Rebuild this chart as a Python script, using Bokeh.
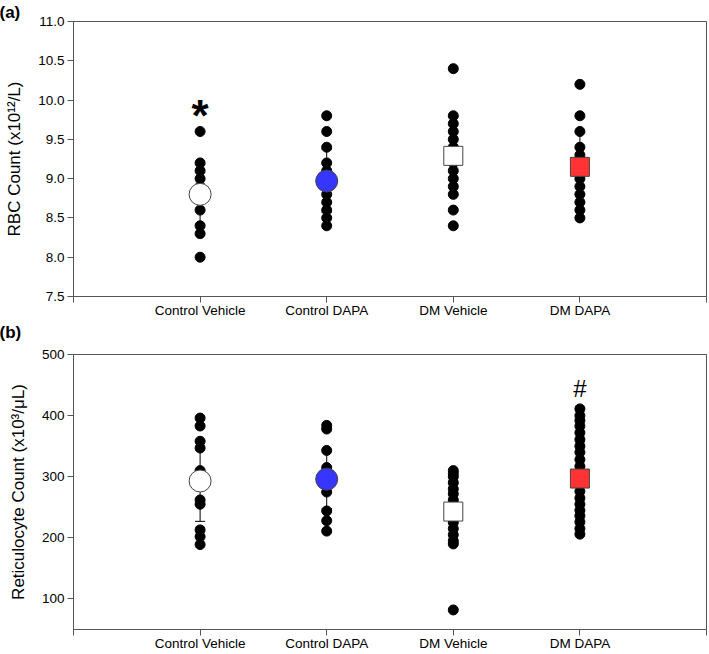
from bokeh.plotting import figure
from bokeh.layouts import column
from bokeh.models import FixedTicker, Label, ColumnDataSource, Range1d, Title
from bokeh.embed import file_html
from bokeh.resources import INLINE

# ---------------- data ----------------
categories = ["Control Vehicle", "Control DAPA", "DM Vehicle", "DM DAPA"]
cat_pos = [1, 2, 3, 4]
x_ticks = [0, 1, 2, 3, 4, 5]

# (a) RBC count (x10^12/L)
rbc_control_vehicle = [9.6, 9.2, 9.1, 9.0, 8.9, 8.8, 8.6, 8.4, 8.3, 8.0]
rbc_control_dapa = [9.8, 9.6, 9.4, 9.2, 9.1, 9.0, 8.9, 8.8, 8.7, 8.6, 8.5, 8.4]
rbc_dm_vehicle = [10.4, 9.8, 9.7, 9.6, 9.5, 9.4, 9.3, 9.2, 9.1, 9.0, 8.9, 8.8, 8.6, 8.4]
rbc_dm_dapa = [10.2, 9.8, 9.6, 9.4, 9.3, 9.2, 9.1, 9.0, 8.9, 8.8, 8.7, 8.6, 8.5]
rbc_means = [8.80, 8.97, 9.29, 9.15]
rbc_sd = [0.38, 0.40, 0.50, 0.45]
rbc_ticks = [7.5, 8.0, 8.5, 9.0, 9.5, 10.0, 10.5, 11.0]
rbc_tick_labels = ["7.5", "8.0", "8.5", "9.0", "9.5", "10.0", "10.5", "11.0"]

# (b) Reticulocyte count (x10^3/uL)
ret_control_vehicle = [396, 383, 358, 347, 310, 262, 255, 213, 202, 189]
ret_control_dapa = [384, 378, 343, 315, 305, 290, 275, 244, 228, 211]
ret_dm_vehicle = [310, 305, 300, 290, 280, 272, 262, 250, 235, 225, 215, 205, 195, 190, 82]
ret_dm_dapa = [411, 400, 392, 383, 372, 361, 350, 340, 328, 317, 305, 290,
               276, 265, 255, 245, 236, 226, 215, 206]
ret_means = [293, 296, 243, 297]
ret_sd = [66, 48, 50, 60]
ret_ticks = [100, 200, 300, 400, 500]
ret_tick_labels = ["100", "200", "300", "400", "500"]

mean_markers = ["circle", "circle", "square", "square"]
mean_colors = ["#ffffff", "#3636ff", "#ffffff", "#ff3333"]
mean_sizes = [22, 22, 19, 19]

FONT = "Liberation Sans"
AXC = "#555555"


def make_panel(groups, means, sds, yr, yticks, ytick_labels, ylabel,
               frame_h, b_top, b_bottom, mark, mark_x, mark_y, mark_size, mark_style, std):
    p = figure(frame_width=633, frame_height=frame_h, output_backend="svg",
               toolbar_location=None, x_range=Range1d(0, 5), y_range=Range1d(*yr),
               min_border_left=73, min_border_right=2, min_border_top=b_top,
               min_border_bottom=b_bottom, tools="")
    p.xgrid.visible = False
    p.ygrid.visible = False
    p.outline_line_color = AXC
    p.outline_line_width = 1
    p.background_fill_color = "white"
    p.border_fill_color = "white"

    # error bars (SD)
    lo = [m - s for m, s in zip(means, sds)]
    hi = [m + s for m, s in zip(means, sds)]
    eb = ColumnDataSource(dict(x=cat_pos, lo=lo, hi=hi,
                               x0=[c - 0.04 for c in cat_pos], x1=[c + 0.04 for c in cat_pos]))
    p.segment(x0="x", y0="lo", x1="x", y1="hi", source=eb, line_color="black", line_width=1)
    p.segment(x0="x0", y0="lo", x1="x1", y1="lo", source=eb, line_color="black", line_width=1)
    p.segment(x0="x0", y0="hi", x1="x1", y1="hi", source=eb, line_color="black", line_width=1)

    # individual points
    xs, ys = [], []
    for c, g in zip(cat_pos, groups):
        xs += [c] * len(g)
        ys += g
    p.scatter(xs, ys, marker="circle", size=10, fill_color="black", line_color="black")

    # group means
    ms = ColumnDataSource(dict(x=cat_pos, y=means, marker=mean_markers,
                               color=mean_colors, size=mean_sizes))
    p.scatter(x="x", y="y", marker="marker", size="size", fill_color="color",
              line_color="#444444", line_width=1, source=ms)

    # significance mark
    p.add_layout(Label(x=mark_x, y=mark_y, text=mark, text_font=FONT,
                       text_font_size=mark_size, text_font_style=mark_style,
                       text_align="center", text_baseline="middle", text_color="black"))

    # axes
    xa = p.xaxis[0]
    xa.ticker = FixedTicker(ticks=x_ticks)
    overrides = {t: "" for t in x_ticks}
    for c, name in zip(cat_pos, categories):
        overrides[c] = name
    xa.major_label_overrides = overrides
    xa.major_label_standoff = std
    ya = p.yaxis[0]
    ya.ticker = FixedTicker(ticks=yticks)
    ya.major_label_overrides = {t: l for t, l in zip(yticks, ytick_labels)}
    ya.major_label_standoff = 3
    ya.axis_label = ylabel
    ya.axis_label_standoff = 11
    ya.axis_label_text_font = FONT
    ya.axis_label_text_font_size = "17px"
    ya.axis_label_text_font_style = "normal"
    ya.axis_label_text_color = "black"
    for ax in (xa, ya):
        ax.axis_line_color = AXC
        ax.major_tick_line_color = AXC
        ax.major_tick_out = 6
        ax.major_tick_in = 0
        ax.minor_tick_line_color = None
        ax.major_label_text_font = FONT
        ax.major_label_text_font_size = "13.5px"
        ax.major_label_text_color = "black"
    return p


def tag(text):
    return Title(text=text, align="left", offset=-74, standoff=0,
                 text_font=FONT, text_font_size="17px", text_font_style="bold",
                 text_color="black")


pa = make_panel([rbc_control_vehicle, rbc_control_dapa, rbc_dm_vehicle, rbc_dm_dapa],
                rbc_means, rbc_sd, (7.5, 11.0), rbc_ticks, rbc_tick_labels,
                "RBC Count (x10\u00b9\u00b2/L)",
                275, 21, 0, "*", 1, 9.80, "44px", "bold", 0)
pa.add_layout(tag("(a)"), "above")
pa.add_layout(tag("(b)"), "below")

pb = make_panel([ret_control_vehicle, ret_control_dapa, ret_dm_vehicle, ret_dm_dapa],
                ret_means, ret_sd, (50, 500), ret_ticks, ret_tick_labels,
                "Reticulocyte Count (x10\u00b3/\u03bcL)",
                275, 13, 22, "#", 4, 445, "24px", "normal", 0)

layout = column(pa, pb, spacing=0)
open("out.html", "w").write(file_html(layout, INLINE))
